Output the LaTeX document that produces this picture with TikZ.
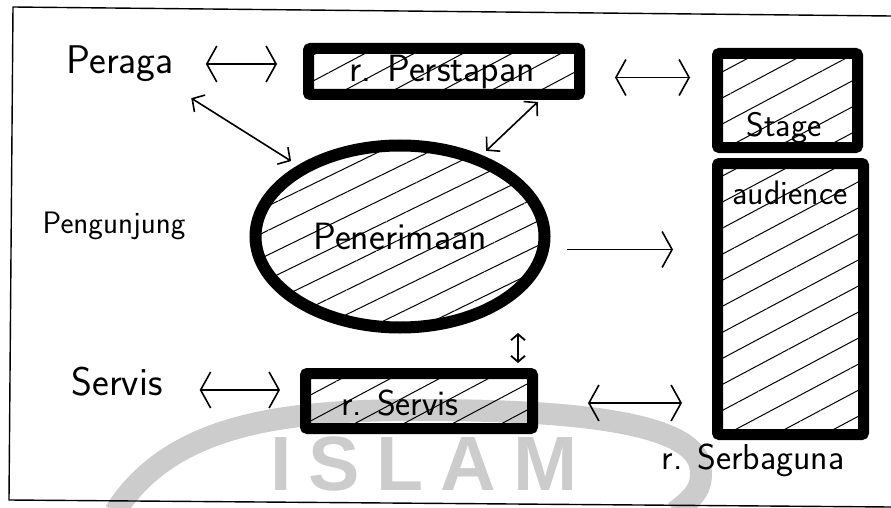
\documentclass[tikz,border=0pt]{standalone}
\usepackage{fontspec}
\newfontfamily\wmfont[LetterSpace=22]{Liberation Sans}
\usetikzlibrary{arrows.meta,patterns.meta,shapes.geometric,backgrounds}
\tikzset{
  >={Straight Barb[length=10pt,width=36pt]},
  ruang/.style={draw=black,line width=11pt,rounded corners=2pt,inner sep=0pt,
    pattern={Lines[angle=28,distance=23pt,line width=1pt]}},
  ruangoval/.style={ellipse,draw=black,line width=12pt,inner sep=0pt,
    pattern={Lines[angle=26,distance=22pt,line width=1pt]}},
  lbl/.style={font=\sffamily\fontsize{#1}{#1}\selectfont,inner sep=0pt},
  hub/.style={<->,line width=1.6pt},
  hubkecil/.style={<->,line width=1.6pt,>={Straight Barb[length=9pt,width=20pt]}},
  hubmini/.style={<->,line width=1.8pt,>={Straight Barb[length=6pt,width=14pt]}},
  satu/.style={->,line width=1.6pt},
  wmark/.style={black!20},
  bingkai/.style={line width=1.4pt},
}

\begin{document}
\begin{tikzpicture}[x=1pt,y=-1pt]
  \useasboundingbox (0,0) rectangle (891,508);
  % watermark
  \begin{scope}[on background layer]
    \draw[wmark,line width=22pt] (115,512) .. controls (170,425) and (280,410) .. (420,410)
      .. controls (560,410) and (690,420) .. (700,465) .. controls (705,490) and (690,500) .. (675,512);
    \node[wmark,inner sep=0pt,anchor=base west,
      font=\wmfont\bfseries\fontsize{77}{77}\selectfont]
      (islam) at (270,490) {ISLAM};
  \end{scope}
  \draw[bingkai] (891,16) -- (13,7) -- (9,500) -- (891,507);

  \node[lbl=40] (peraga) at (120,64) {Peraga};
  \node[lbl=31] (pengunjung) at (114,226) {Pengunjung};
  \node[lbl=40] (servis) at (117,382) {Servis};

  \node[ruang,minimum width=271pt,minimum height=46pt] (perstapan) at (444,71.5) {};
  \node[ruang,minimum width=140pt,minimum height=94pt] (stage) at (787.5,100.5) {};
  \node[ruang,minimum width=146pt,minimum height=271pt] (audience) at (790.5,299) {};
  \node[ruang,minimum width=227pt,minimum height=55pt] (rservis) at (419,401) {};
  \node[ruangoval,minimum width=289pt,minimum height=182pt,lbl=38] (penerimaan) at (400,236.5) {Penerimaan};

  \node[lbl=38] (perstapantxt) at (442,72) {r. Perstapan};
  \node[lbl=34] (stagetxt) at (784,128) {Stage};
  \node[lbl=34] (audiencetxt) at (790,193) {audience};
  \node[lbl=36] (rservistxt) at (400,403) {r. Servis};
  \node[lbl=36] (serbaguna) at (753,460) {r. Serbaguna};

  \draw[hub,shorten <=32pt,shorten >=31pt] (peraga.east) -- (peraga.east -| perstapan.west);
  \draw[hub,shorten <=35pt,shorten >=22pt] ([yshift=-6pt]perstapan.east) -- ([yshift=-6pt]perstapan.east -| stage.west);
  \draw[hubkecil,shorten <=30pt,shorten >=14pt] ([xshift=-8pt]peraga.south east) -- (penerimaan.145);
  \draw[hubkecil,shorten <=10pt,shorten >=12pt] ([xshift=-35pt]perstapan.south east) -- (penerimaan.45);
  \draw[satu,shorten <=22pt,shorten >=39pt] ([yshift=-13pt]penerimaan.east) -- ([yshift=-13pt]penerimaan.east -| audience.west);
  \draw[hub,shorten <=37pt,shorten >=20pt] ([yshift=-8pt]servis.east) -- ([yshift=-8pt]servis.east -| rservis.west);
  \draw[hubmini,shorten <=5pt,shorten >=5pt] ([xshift=-20pt]rservis.north east) -- ([xshift=-20pt]rservis.north east |- penerimaan.south);
  \draw[hub,shorten <=50pt,shorten >=30pt] ([yshift=-2pt]rservis.east) -- ([yshift=-2pt]rservis.east -| audience.west);
\end{tikzpicture}
\end{document}
